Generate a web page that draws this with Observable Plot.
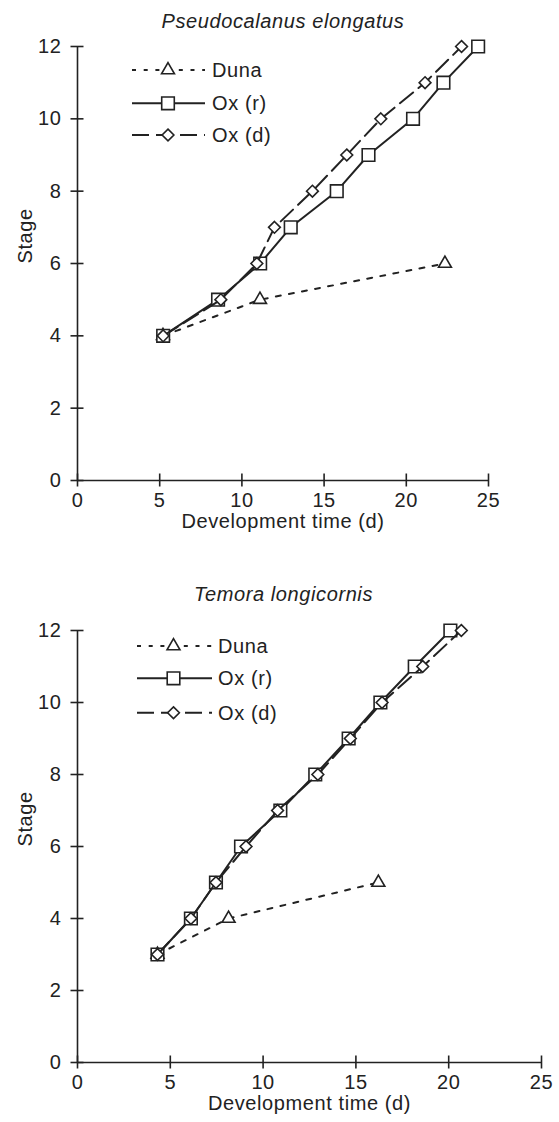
<!DOCTYPE html>
<html><head><meta charset="utf-8">
<script src="https://cdn.jsdelivr.net/npm/d3@7"></script>
<script src="https://cdn.jsdelivr.net/npm/@observablehq/plot@0.6"></script>
<style>
html,body{margin:0;padding:0;background:#fff;}
#wrap{width:559px;height:1122px;overflow:hidden;}
#wrap svg{display:block;}
</style></head><body><div id="wrap"></div>
<script>
// ---------- data ----------
const seriesNames = ["Duna", "Ox (r)", "Ox (d)"];
const xTicks = [0, 5, 10, 15, 20, 25];
const yTicks = [0, 2, 4, 6, 8, 10, 12];
const xLabel = "Development time (d)";
const yLabel = "Stage";

const pseudoTitle = "Pseudocalanus elongatus";
const pseudoDunaStage = [4, 5, 6];
const pseudoDunaTime = [5.2, 11.1, 22.35];
const pseudoOxrStage = [4, 5, 6, 7, 8, 9, 10, 11, 12];
const pseudoOxrTime = [5.21, 8.55, 11.11, 12.97, 15.77, 17.7, 20.41, 22.26, 24.37];
const pseudoOxdStage = [4, 5, 6, 7, 8, 9, 10, 11, 12];
const pseudoOxdTime = [5.21, 8.72, 10.91, 11.98, 14.29, 16.38, 18.45, 21.14, 23.36];

const temoraTitle = "Temora longicornis";
const temoraDunaStage = [3, 4, 5];
const temoraDunaTime = [4.31, 8.14, 16.21];
const temoraOxrStage = [3, 4, 5, 6, 7, 8, 9, 10, 11, 12];
const temoraOxrTime = [4.31, 6.11, 7.46, 8.81, 10.93, 12.81, 14.61, 16.32, 18.17, 20.09];
const temoraOxdStage = [3, 4, 5, 6, 7, 8, 9, 10, 11, 12];
const temoraOxdTime = [4.31, 6.11, 7.46, 9.08, 10.78, 12.95, 14.7, 16.41, 18.6, 20.68];

// ---------- styles ----------
const ink = "#222";
const styles = {
  "Duna":   {symbol: "triangle", r: 4.8, dash: "5,8.3", legendDash: "4,7.7"},
  "Ox (r)": {symbol: "square",   r: 7.1, dash: null,    legendDash: null},
  "Ox (d)": {symbol: "diamond2", r: 5.3, dash: "17,7",  legendDash: "17,7"}
};
const d3sym = {triangle: d3.symbolTriangle, square: d3.symbolSquare, diamond2: d3.symbolDiamond2};

function rows(stages, times) { return stages.map((s, i) => ({stage: s, time: times[i]})); }

function panel(cfg) {
  const marks = [];
  marks.push(Plot.ruleX([0], {stroke: ink, strokeWidth: 1.6}));
  marks.push(Plot.ruleY([0], {stroke: ink, strokeWidth: 1.6}));
  marks.push(Plot.ruleX(xTicks, {x: d => d, y1: 0, y2: 0, insetTop: -6.5, insetBottom: -6.5, stroke: ink, strokeWidth: 1.6}));
  marks.push(Plot.ruleY(yTicks, {y: d => d, x1: 0, x2: 0, insetLeft: -6.5, insetRight: -6.5, stroke: ink, strokeWidth: 1.6}));
  marks.push(Plot.axisX({ticks: xTicks, tickSize: 0, tickPadding: 12, label: null, fill: ink}));
  marks.push(Plot.axisY({ticks: yTicks, tickSize: 0, tickPadding: 16, label: null, fill: ink}));
  marks.push(Plot.text([xLabel], {text: d => d, frameAnchor: "bottom", lineAnchor: "middle", dy: cfg.xLabelDy, fill: ink}));
  marks.push(Plot.text([yLabel], {text: d => d, frameAnchor: "left", rotate: -90, dx: -52, fill: ink}));
  marks.push(Plot.text([cfg.title], {text: d => d, frameAnchor: "top", lineAnchor: "top", dx: cfg.titleDx, dy: cfg.titleDy, fontStyle: "italic", fill: ink}));
  cfg.series.forEach(s => {
    const st = styles[s.name];
    marks.push(Plot.line(s.data, {x: "time", y: "stage", stroke: ink, strokeWidth: 2, strokeDasharray: st.dash}));
    marks.push(Plot.dot(s.data, {x: "time", y: "stage", symbol: st.symbol, r: st.r, fill: "white", stroke: ink, strokeWidth: 1.6}));
  });
  const svg = Plot.plot({
    width: 559,
    height: cfg.height,
    marginLeft: 77,
    marginRight: cfg.marginRight,
    marginTop: cfg.marginTop,
    marginBottom: cfg.marginBottom,
    x: {domain: [0, 25]},
    y: {domain: [0, 12]},
    style: {fontFamily: "'Liberation Sans', Arial, sans-serif", fontSize: "20px", letterSpacing: "0.6px", color: ink, background: "white", overflow: "visible"},
    marks
  });
  const g = d3.select(svg).append("g").attr("text-anchor", "start");
  seriesNames.forEach((name, i) => {
    const st = styles[name];
    const L = cfg.legend;
    const y = L.rows[i];
    g.append("line").attr("x1", L.x1).attr("x2", L.x2).attr("y1", y).attr("y2", y)
      .attr("stroke", ink).attr("stroke-width", 2).attr("stroke-dasharray", st.legendDash);
    g.append("path").attr("d", d3.symbol().type(d3sym[st.symbol]).size(Math.PI * st.r * st.r)())
      .attr("transform", `translate(${L.mx},${y})`).attr("fill", "white").attr("stroke", ink).attr("stroke-width", 1.6);
    g.append("text").attr("x", L.tx).attr("y", y).attr("dy", "0.34em").attr("fill", ink).text(name);
  });
  return svg;
}

const wrap = document.getElementById("wrap");
wrap.appendChild(panel({
  title: pseudoTitle, height: 570, marginTop: 46, marginBottom: 90, marginRight: 71,
  titleDx: 0, titleDy: -33, xLabelDy: 41,
  legend: {rows: [70, 103.3, 135], x1: 132, x2: 205, mx: 168, tx: 212},
  series: [
    {name: "Duna", data: rows(pseudoDunaStage, pseudoDunaTime)},
    {name: "Ox (r)", data: rows(pseudoOxrStage, pseudoOxrTime)},
    {name: "Ox (d)", data: rows(pseudoOxdStage, pseudoOxdTime)}
  ]
}));
wrap.appendChild(panel({
  title: temoraTitle, height: 552, marginTop: 60, marginBottom: 60, marginRight: 18,
  titleDx: -26, titleDy: -44, xLabelDy: 41,
  legend: {rows: [76, 108.3, 142.7], x1: 137, x2: 212, mx: 173.5, tx: 218},
  series: [
    {name: "Duna", data: rows(temoraDunaStage, temoraDunaTime)},
    {name: "Ox (r)", data: rows(temoraOxrStage, temoraOxrTime)},
    {name: "Ox (d)", data: rows(temoraOxdStage, temoraOxdTime)}
  ]
}));
</script></body></html>
